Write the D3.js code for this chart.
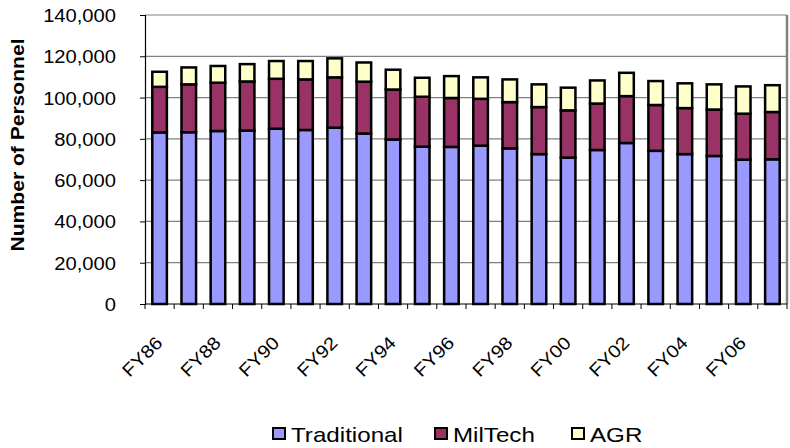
<!DOCTYPE html>
<html>
  <head>
    <meta charset="utf-8">
    <script src="https://d3js.org/d3.v7.min.js"></script>
    <style>
      body { margin: 0; background: #fff; }
      svg text { font-family: Arial, "Liberation Sans", sans-serif; fill: #000; }
    </style>
  </head>
<body>
<script>
  // fiscal years on the x axis
  var years = ["FY86","FY87","FY88","FY89","FY90","FY91","FY92","FY93","FY94","FY95","FY96",
               "FY97","FY98","FY99","FY00","FY01","FY02","FY03","FY04","FY05","FY06","FY07"];
  // personnel by category
  var traditional = [83100,83200,83800,84000,84900,84300,85400,82600,79700,76200,76100,
                     76700,75400,72600,70900,74600,78000,74200,72600,71700,69900,70100];
  var miltech = [22100,23200,23400,23800,24200,24500,24400,25100,24200,24200,23700,
                 22700,22400,22800,22900,22500,22700,22200,22300,22500,22300,22900];
  var agr = [7300,8200,8100,8400,8600,8900,9200,9300,9600,9200,10600,
             10400,11000,11000,11000,11200,11300,11600,12000,12200,13200,13000];
  var yTicks = [0,20000,40000,60000,80000,100000,120000,140000];
  var seriesNames = ["Traditional","MilTech","AGR"];
  var colors = ["#9999ff","#993366","#ffffcc"];

  var width = 790, height = 448;
  var margin = {left:145, top:15, right:3, bottom:144};

  var rows = years.map(function(y, i) {
    return {year: y, Traditional: traditional[i], MilTech: miltech[i], AGR: agr[i]};
  });

  // the original text is drawn a bit wider than Arial, stretch it the same way
  function widen(sel, k) {
    sel.each(function() {
      var w = this.getComputedTextLength();
      d3.select(this).attr("textLength", w * k).attr("lengthAdjust", "spacingAndGlyphs");
    });
  }

  var svg = d3.select("body").append("svg")
      .attr("width", width)
      .attr("height", height);

  var x = d3.scaleBand()
      .domain(years)
      .range([margin.left, width - margin.right])
      .paddingInner(0.5)
      .paddingOuter(0.25);

  var y = d3.scaleLinear()
      .domain([0, 140000])
      .range([height - margin.bottom, margin.top]);

  // gridlines
  svg.append("g")
    .selectAll("line")
    .data(yTicks.slice(1))
    .enter().append("line")
      .attr("x1", margin.left).attr("x2", width - margin.right)
      .attr("y1", function(d) { return y(d); })
      .attr("y2", function(d) { return y(d); })
      .attr("stroke", "#808080")
      .attr("stroke-width", 1.2);

  // right border of plot area
  svg.append("line")
    .attr("x1", width - margin.right).attr("x2", width - margin.right)
    .attr("y1", margin.top).attr("y2", height - margin.bottom)
    .attr("stroke", "#808080")
    .attr("stroke-width", 2.5);

  var stack = d3.stack().keys(seriesNames);
  var layers = stack(rows);

  svg.append("g")
    .selectAll("g")
    .data(layers)
    .enter().append("g")
      .attr("fill", function(d, i) { return colors[i]; })
    .selectAll("rect")
    .data(function(d) { return d; })
    .enter().append("rect")
      .attr("x", function(d) { return x(d.data.year); })
      .attr("y", function(d) { return y(d[1]); })
      .attr("width", x.bandwidth())
      .attr("height", function(d) { return y(d[0]) - y(d[1]); })
      .attr("stroke", "#000")
      .attr("stroke-width", 2.5);

  // y axis
  var yAxis = svg.append("g")
    .attr("transform", "translate(" + margin.left + ",0)")
    .call(d3.axisLeft(y).tickValues(yTicks).tickFormat(d3.format(",")).tickSize(5).tickPadding(24));
  yAxis.select(".domain").attr("stroke", "#000").attr("stroke-width", 1.2);
  yAxis.selectAll(".tick line").attr("stroke", "#000");
  yAxis.selectAll("text").style("font-size", "18px").attr("fill", "#000")
    .attr("dy", "0.36em");
  widen(yAxis.selectAll("text"), 1.12);

  // x axis
  var xAxis = svg.append("g")
    .attr("transform", "translate(0," + y(0) + ")");
  xAxis.append("line")
    .attr("x1", margin.left).attr("x2", width - margin.right)
    .attr("stroke", "#000").attr("stroke-width", 1.2);
  xAxis.selectAll(".xt")
    .data(years.concat(["end"]))
    .enter().append("line")
      .attr("class", "xt")
      .attr("x1", function(d, i) { return margin.left + i * x.step(); })
      .attr("x2", function(d, i) { return margin.left + i * x.step(); })
      .attr("y1", 0).attr("y2", 5)
      .attr("stroke", "#000");
  var xLabels = xAxis.selectAll("text")
    .data(years.filter(function(d, i) { return i % 2 === 0; }))
    .enter().append("text")
      .attr("text-anchor", "end")
      .attr("transform", function(d) {
        return "translate(" + (x(d) + x.bandwidth() / 2 + 4) + ",40) rotate(-45)";
      })
      .style("font-size", "18px")
      .text(function(d) { return d; });
  widen(xLabels, 1.12);

  // y axis title
  var yTitle = svg.append("text")
    .attr("transform", "translate(24,145) rotate(-90)")
    .attr("text-anchor", "middle")
    .style("font-size", "18px")
    .style("font-weight", "bold")
    .text("Number of Personnel");
  widen(yTitle, 1.17);

  // legend
  var legendX = [273, 435, 572];
  var legend = svg.append("g")
    .selectAll("g")
    .data(seriesNames)
    .enter().append("g")
      .attr("transform", function(d, i) { return "translate(" + legendX[i] + ",428)"; });
  legend.append("rect")
    .attr("width", 12).attr("height", 11)
    .attr("fill", function(d, i) { return colors[i]; })
    .attr("stroke", "#000")
    .attr("stroke-width", 2);
  var legendText = legend.append("text")
    .attr("x", 18)
    .attr("y", 14)
    .style("font-size", "21px")
    .text(function(d) { return d; });
  widen(legendText, 1.15);
</script>
</body>
</html>
